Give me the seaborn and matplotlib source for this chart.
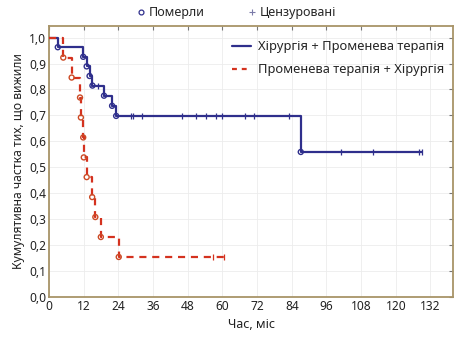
import numpy as np
import pandas as pd
import matplotlib
matplotlib.use("Agg")
import matplotlib.pyplot as plt
from matplotlib.lines import Line2D
import seaborn as sns

# ---- data ----
blue_event_t = [3.0, 11.8, 13.0, 14.0, 15.0, 19.0, 21.8, 23.2, 87.1]
blue_event_s = [0.963, 0.926, 0.889, 0.852, 0.815, 0.776, 0.737, 0.698, 0.559]
blue_cens_t = [17.0, 28.2, 28.9, 32.0, 46.0, 50.9, 54.4, 57.9, 60.0, 67.9, 71.0,
               83.1, 101.0, 112.0, 128.1, 129.1]

red_event_t = [4.9, 7.8, 10.7, 11.0, 11.8, 12.0, 13.0, 14.9, 16.0, 17.9, 24.1]
red_event_s = [0.923, 0.846, 0.769, 0.692, 0.615, 0.538, 0.462, 0.385, 0.308, 0.231, 0.154]
red_cens_t = [56.8, 60.6]

series_names = ["Хірургія + Променева терапія", "Променева терапія + Хірургія"]
x_ticks = [0, 12, 24, 36, 48, 60, 72, 84, 96, 108, 120, 132]
y_ticks = [0.0, 0.1, 0.2, 0.3, 0.4, 0.5, 0.6, 0.7, 0.8, 0.9, 1.0]

BLUE = "#2f2f8c"
RED = "#d4321f"
RED_MK = "#cc4a24"
SPINE = "#a89468"

sns.set_theme(style="white")
plt.rcParams["font.family"] = ["Noto Sans", "DejaVu Sans"]


def curve(ev_t, ev_s, cens_t):
    t = [0.0] + list(ev_t) + [max(cens_t)]
    s = [1.0] + list(ev_s) + [ev_s[-1]]
    et = np.array([0.0] + list(ev_t))
    es = np.array([1.0] + list(ev_s))
    idx = np.searchsorted(et, np.array(cens_t), side="right") - 1
    cs = es[idx]
    return pd.DataFrame({"t": t, "s": s}), pd.DataFrame({"t": ev_t, "s": ev_s}), \
        pd.DataFrame({"t": cens_t, "s": cs})


fig = plt.figure(figsize=(4.59, 3.37), dpi=100)
ax = fig.add_axes([0.107, 0.119, 0.880, 0.804])

b_line, b_ev, b_c = curve(blue_event_t, blue_event_s, blue_cens_t)
r_line, r_ev, r_c = curve(red_event_t, red_event_s, red_cens_t)

sns.lineplot(data=b_line, x="t", y="s", ax=ax, color=BLUE, lw=1.6,
             drawstyle="steps-post", estimator=None, sort=False, zorder=3)
sns.lineplot(data=r_line, x="t", y="s", ax=ax, color=RED, lw=1.6,
             drawstyle="steps-post", estimator=None, sort=False, zorder=3,
             dashes=False, linestyle=(0, (3.2, 2.6)))

sns.scatterplot(data=b_ev, x="t", y="s", ax=ax, marker="o", s=13,
                facecolor="none", edgecolor=BLUE, linewidth=1.0, zorder=4)
sns.scatterplot(data=r_ev, x="t", y="s", ax=ax, marker="o", s=13,
                facecolor="none", edgecolor=RED_MK, linewidth=1.0, zorder=4)
sns.scatterplot(data=b_c, x="t", y="s", ax=ax, marker="|", s=20,
                color=BLUE, linewidth=0.9, zorder=4)
sns.scatterplot(data=r_c, x="t", y="s", ax=ax, marker="|", s=20,
                color=RED, linewidth=0.9, zorder=4)

ax.set_xlim(0, 139.8)
ax.set_ylim(0, 1.045)
ax.set_xticks(x_ticks)
ax.set_xticklabels([str(v) for v in x_ticks])
ax.set_yticks(y_ticks)
ax.set_yticklabels([f"{v:.1f}".replace(".", ",") for v in y_ticks])
ax.grid(True, color="#ececec", lw=0.6)
ax.set_axisbelow(True)
for sp in ax.spines.values():
    sp.set_color(SPINE)
    sp.set_linewidth(1.3)
ax.tick_params(axis="both", direction="in", length=3, width=0.8, color="#777777",
               labelsize=8.6, labelcolor="#222222", pad=2, top=True, right=True)
ax.set_xlabel("Час, міс", fontsize=9, color="#222222", labelpad=4)
ax.set_ylabel("Кумулятивна частка тих, що вижили", fontsize=8.8, color="#222222",
              labelpad=3)

# inner legend
h_in = [Line2D([], [], color=BLUE, lw=1.6),
        Line2D([], [], color=RED, lw=1.6, linestyle=(0, (2.2, 2.2)))]
ax.legend(h_in, series_names, loc="upper right", bbox_to_anchor=(0.997, 0.975),
          frameon=False, fontsize=9.3, handlelength=1.5, handletextpad=0.5,
          labelspacing=0.75, borderaxespad=0.2)

# top legend
h_top = [Line2D([], [], color=BLUE, marker="o", ls="none", markersize=3.5,
                markerfacecolor="none", markeredgewidth=0.9),
         Line2D([], [], color="#7a7aa8", marker="+", ls="none", markersize=5,
                markeredgewidth=0.8)]
fig.legend(h_top, ["Померли", "Цензуровані"], loc="center",
           bbox_to_anchor=(0.515, 0.963), ncol=2, frameon=False, fontsize=9,
           handlelength=0.8, handletextpad=0.2, columnspacing=3.4)

fig.savefig("out.png", dpi=100)
